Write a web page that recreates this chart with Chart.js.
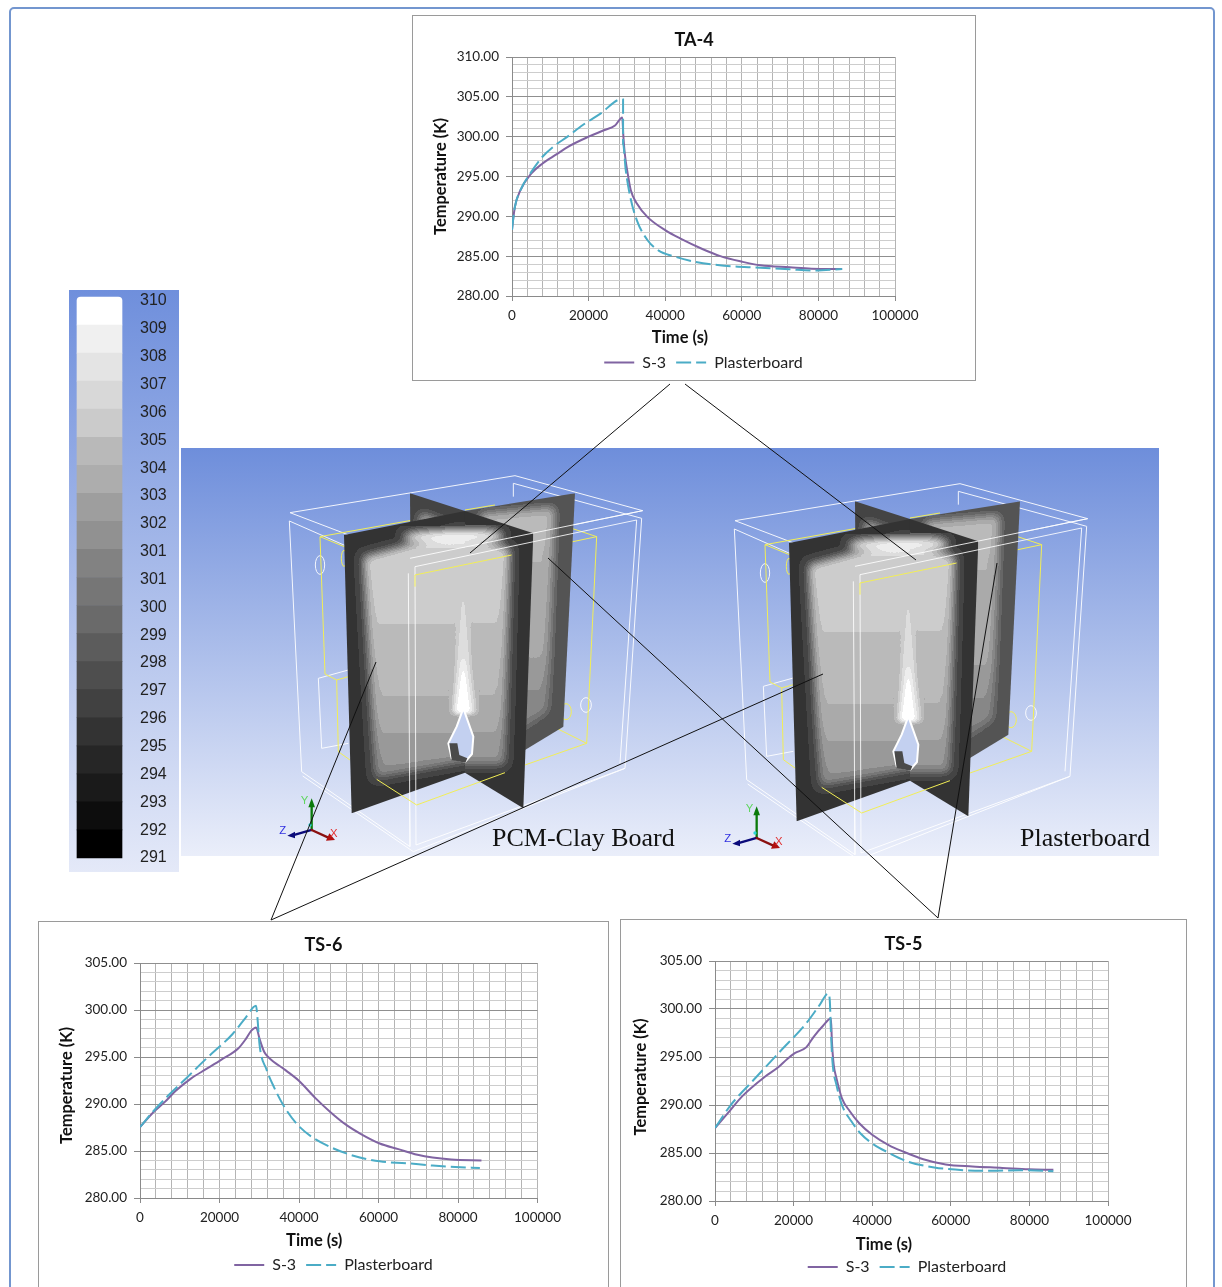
<!DOCTYPE html>
<html>
<head>
<meta charset="utf-8">
<title>Temperature charts</title>
<script src="https://cdn.jsdelivr.net/npm/chart.js@4"></script>
<style>
    html, body { margin: 0; padding: 0; background: #fff; }
    #page { position: relative; width: 1222px; height: 1287px; overflow: hidden; background: #fff; }
    #frame { position: absolute; left: 9px; top: 7px; width: 1206px; height: 1300px; border: 2px solid #7396cf; border-radius: 5px; box-sizing: border-box; }
    #legendPanel { position: absolute; left: 69px; top: 290px; width: 110px; height: 582px; background: linear-gradient(#6f8fdc, #e4e9f8); }
    #sceneBg { position: absolute; left: 181px; top: 448px; width: 978px; height: 408px; background: linear-gradient(#6e8edb, #eaeefa); }
    .box { position: absolute; background: #fff; border: 1px solid #9a9a9a; box-sizing: border-box; }
    canvas, svg { position: absolute; left: 0; top: 0; }
    .box canvas { left: -1px; top: -1px; }
    .sceneLabel { position: absolute; font-family: "Liberation Serif", serif; font-size: 26px; color: #111; white-space: nowrap; }
</style>
</head>
<body>
<div id="page">
    <div id="frame"></div>
    <div id="legendPanel"><canvas id="legendChart" width="110" height="582"></canvas></div>
    <div id="sceneBg"></div>

    <svg width="1222" height="1287" viewBox="0 0 1222 1287">
        <defs>
            <filter id="blur14" x="-30%" y="-30%" width="160%" height="160%"><feGaussianBlur stdDeviation="14"/></filter>
            <filter id="blur6" x="-30%" y="-30%" width="160%" height="160%"><feGaussianBlur stdDeviation="6"/></filter>
            <filter id="bands" x="0" y="0" width="100%" height="100%" color-interpolation-filters="sRGB">
                <feComponentTransfer>
                    <feFuncR type="discrete" tableValues="0 .07 .13 .2 .27 .33 .4 .47 .53 .6 .67 .73 .8 .87 .93 1"/>
                    <feFuncG type="discrete" tableValues="0 .07 .13 .2 .27 .33 .4 .47 .53 .6 .67 .73 .8 .87 .93 1"/>
                    <feFuncB type="discrete" tableValues="0 .07 .13 .2 .27 .33 .4 .47 .53 .6 .67 .73 .8 .87 .93 1"/>
                </feComponentTransfer>
            </filter>
            <linearGradient id="wallGrey" gradientUnits="userSpaceOnUse" x1="0" y1="280" x2="0" y2="990">
                <stop offset="0" stop-color="#d0d0d0"/>
                <stop offset=".35" stop-color="#bfbfbf"/>
                <stop offset=".7" stop-color="#acacac"/>
                <stop offset="1" stop-color="#888888"/>
            </linearGradient>
            <linearGradient id="backGrey" gradientUnits="userSpaceOnUse" x1="0" y1="220" x2="0" y2="850">
                <stop offset="0" stop-color="#b4b4b4"/>
                <stop offset=".6" stop-color="#a4a4a4"/>
                <stop offset="1" stop-color="#7a7a7a"/>
            </linearGradient>
            <clipPath id="wingBackLeft"><polygon points="690,130 855,183 855,400 692,400"/></clipPath>
            <clipPath id="wingBackRight"><polygon points="855,183 1185,130 1150,830 1035,900 855,968"/></clipPath>
            <clipPath id="wingFrontLeft"><polygon points="492,255 855,183 855,968 515,1090"/></clipPath>
            <clipPath id="wingFrontRight"><polygon points="855,183 1060,250 1030,1075 855,968"/></clipPath>

            <g id="scene" fill="none" stroke-linejoin="round">
                <!-- wireframe behind the walls -->
                <g stroke="#ffffff" stroke-width="3" opacity=".9">
                    <polygon points="330,188 1005,77 1388,182 690,325"/>
                    <polyline points="1000,140 1000,100 1385,205 1335,955 708,1185"/>
                    <polyline points="328,213 365,965 690,1190 685,370 328,213"/>
                    <polyline points="368,978 700,1205 1335,955"/>
                    <polyline points="1370,210 1320,940"/>
                    <polyline points="505,660 415,685 425,895 505,880"/>
                    <ellipse cx="420" cy="345" rx="14" ry="28"/>
                    <ellipse cx="1218" cy="765" rx="16" ry="22"/>
                </g>
                <g stroke="#f2ee55" stroke-width="3">
                    <polyline points="700,210 420,260 435,672 470,690 505,680"/>
                    <polyline points="470,690 475,905 510,930"/>
                    <polyline points="420,260 700,375"/>
                    <polyline points="1060,300 1250,260 1115,215"/>
                    <polyline points="1250,260 1220,880 1035,945"/>
                    <polyline points="855,180 945,165"/>
                    <polyline points="1090,815 1220,880"/>
                    <ellipse cx="1158" cy="785" rx="16" ry="24"/>
                    <ellipse cx="492" cy="325" rx="8" ry="24"/>
                </g>

                <!-- contour walls, blurred then cut into bands -->
                <g clip-path="url(#wingBackLeft)"><g filter="url(#bands)">
                    <rect x="680" y="120" width="190" height="300" fill="#484848"/>
                    <polygon points="720,190 855,240 855,400 720,400" fill="#bbbbbb" filter="url(#blur14)"/>
                </g></g>
                <g clip-path="url(#wingBackRight)"><g filter="url(#bands)">
                    <rect x="850" y="120" width="350" height="860" fill="#525252"/>
                    <polygon points="900,190 1125,170 1105,785 1000,860 900,860" fill="url(#backGrey)" filter="url(#blur14)"/>
                </g></g>
                <g clip-path="url(#wingFrontLeft)"><g filter="url(#bands)">
                    <rect x="480" y="170" width="390" height="930" fill="#3e3e3e"/>
                    <polygon points="550,320 830,245 880,245 880,930 585,985" fill="url(#wallGrey)" filter="url(#blur14)"/>
                    <ellipse cx="790" cy="262" rx="120" ry="20" fill="#f4f4f4" filter="url(#blur14)"/>
                    <polygon points="850,400 872,650 885,790 815,790 828,650" fill="#dcdcdc" filter="url(#blur6)"/>
                    <polygon points="850,620 870,790 828,790" fill="#ffffff" filter="url(#blur6)"/>
                </g></g>
                <g clip-path="url(#wingFrontRight)"><g filter="url(#bands)">
                    <rect x="845" y="170" width="225" height="915" fill="#3e3e3e"/>
                    <polygon points="830,245 990,295 975,945 830,945" fill="url(#wallGrey)" filter="url(#blur14)"/>
                    <ellipse cx="885" cy="258" rx="85" ry="20" fill="#f4f4f4" filter="url(#blur14)"/>
                    <polygon points="850,400 872,650 890,790 815,790 828,650" fill="#dcdcdc" filter="url(#blur6)"/>
                    <polygon points="850,620 872,790 828,790" fill="#ffffff" filter="url(#blur6)"/>
                </g></g>
                <!-- opening at the foot of the plume -->
                <path d="M850 775 L880 860 L876 912 L856 935 L815 925 L805 880 L830 830 Z" fill="#c3d0f0" stroke="#ffffff" stroke-width="6"/>
                <path d="M808 880 L832 880 L838 915 L862 925 L856 938 L815 930 Z" fill="#4a4a4a"/>

                <!-- wireframe in front of the walls -->
                <g stroke="#ffffff" stroke-width="3" opacity=".85">
                    <polyline points="690,325 1388,182"/>
                    <polyline points="705,350 1370,210"/>
                    <polyline points="705,350 708,1185"/>
                    <polyline points="685,370 690,1190"/>
                </g>
                <g stroke="#f2ee55" stroke-width="3">
                    <polyline points="590,988 710,1065 975,968"/>
                    <polyline points="705,375 995,315"/>
                    <polyline points="705,375 705,410"/>
                </g>

                <!-- axis triad -->
                <g stroke-width="7" stroke-linecap="round">
                    <line x1="395" y1="1140" x2="395" y2="1060" stroke="#0b7a0b"/>
                    <line x1="395" y1="1140" x2="335" y2="1157" stroke="#0a0a7a"/>
                    <line x1="395" y1="1140" x2="450" y2="1165" stroke="#8a1010"/>
                </g>
                <polygon points="385,1072 395,1045 405,1072" fill="#0b7a0b"/>
                <polygon points="345,1145 322,1157 345,1165" fill="#0a0a7a"/>
                <polygon points="438,1172 465,1170 448,1150" fill="#b01010"/>
                <circle cx="390" cy="1125" r="5" fill="#2bd6d6"/>
                <g font-family="Liberation Sans, sans-serif" font-size="34">
                    <text x="362" y="1062" fill="#5fd65f">Y</text>
                    <text x="450" y="1162" fill="#e23030">X</text>
                    <text x="298" y="1152" fill="#3030e0">Z</text>
                </g>
            </g>
        </defs>
        <g transform="translate(180,450) scale(.33333)"><use href="#scene"/></g>
        <g transform="translate(625,458) scale(.33333)"><use href="#scene"/></g>
    </svg>

    <div class="sceneLabel" style="left:492px; top:823px;">PCM-Clay Board</div>
    <div class="sceneLabel" style="left:1020px; top:823px;">Plasterboard</div>

    <div class="box" style="left:412px; top:15px; width:564px; height:366px;"><canvas id="chartTA4" width="564" height="366"></canvas></div>
    <div class="box" style="left:38px; top:921px; width:571px; height:380px;"><canvas id="chartTS6" width="571" height="366"></canvas></div>
    <div class="box" style="left:620px; top:919px; width:567px; height:380px;"><canvas id="chartTS5" width="567" height="368"></canvas></div>

    <!-- call-out lines -->
    <svg width="1222" height="1287" viewBox="0 0 1222 1287" stroke="#111" stroke-width="1">
        <line x1="670" y1="384" x2="470" y2="553"/>
        <line x1="685" y1="384" x2="916" y2="560"/>
        <line x1="271" y1="920" x2="376" y2="662"/>
        <line x1="271" y1="920" x2="823" y2="674"/>
        <line x1="938" y1="918" x2="548" y2="558"/>
        <line x1="938" y1="918" x2="997" y2="563"/>
    </svg>
</div>

<script>
// Values
const ta4TimeS3 = [0, 200, 760, 2180, 5000, 7900, 11700, 14500, 20000, 24000, 26900, 28800, 29060, 29440, 30200, 31000, 32600, 35400, 40200, 44000, 49700, 54400, 60100, 64900, 72500, 78200, 86200];
const ta4S3 = [288.3, 289.2, 291.2, 293.26, 295.35, 296.6, 297.8, 298.7, 300, 300.8, 301.4, 302.4, 300.2, 297.9, 295.4, 293.3, 291.6, 289.9, 288.2, 287.2, 285.9, 285, 284.3, 283.85, 283.6, 283.43, 283.4];
const ta4TimePb = [0, 200, 760, 2180, 5000, 7900, 11200, 14500, 18300, 23100, 28600, 29000, 29000, 29700, 30900, 32600, 35400, 38300, 42100, 47800, 55400, 64900, 72500, 79100, 86200];
const ta4Pb = [288.3, 289.2, 291.2, 293.26, 295.55, 297.45, 298.9, 300, 301.4, 302.9, 304.7, 304.65, 299.1, 295.8, 292.4, 289.5, 287, 285.7, 285, 284.3, 283.8, 283.55, 283.35, 283.2, 283.4];

const ts6TimeS3 = [0, 3300, 6200, 9000, 12800, 16600, 20400, 24700, 26600, 28000, 29200, 30100, 31300, 32500, 36600, 39900, 44200, 48000, 51800, 55600, 60300, 65000, 69800, 73600, 78300, 85900];
const ts6S3 = [287.54, 289.1, 290.2, 291.4, 292.7, 293.7, 294.7, 295.9, 296.9, 297.8, 298.15, 296.9, 295.5, 294.9, 293.6, 292.5, 290.6, 289.1, 287.8, 286.8, 285.8, 285.2, 284.6, 284.3, 284.1, 284];
const ts6TimePb = [0, 3300, 7100, 11900, 16600, 23300, 26600, 29200, 29500, 30100, 31800, 33700, 36100, 39400, 43200, 48000, 53700, 60300, 67000, 73600, 79300, 85500];
const ts6Pb = [287.54, 289.2, 290.9, 292.85, 294.8, 297.45, 299.2, 300.45, 299.4, 296.2, 293.7, 291.8, 289.85, 287.9, 286.5, 285.4, 284.5, 283.9, 283.7, 283.45, 283.3, 283.2];

const ts5TimeS3 = [0, 3100, 6900, 12700, 16000, 18400, 20300, 23200, 25100, 27500, 29500, 29750, 30200, 30900, 32300, 34300, 36700, 40000, 44300, 48200, 53000, 58700, 65500, 73100, 79800, 86100];
const ts5S3 = [287.6, 289.07, 290.9, 292.95, 293.9, 294.8, 295.4, 296, 297.1, 298.25, 299, 296.6, 294.2, 292.8, 290.7, 289.35, 288.1, 286.9, 285.8, 285.1, 284.35, 283.8, 283.6, 283.45, 283.3, 283.25];
const ts5TimePb = [0, 4000, 9800, 16500, 23200, 26600, 28800, 29200, 29500, 29900, 30900, 32300, 34700, 37100, 40000, 44300, 49100, 55800, 63500, 70200, 77900, 86100];
const ts5Pb = [287.6, 289.99, 292.6, 295.55, 298.5, 300.4, 301.6, 300.95, 297.6, 294.45, 292.1, 290, 288.3, 287, 286, 285, 284.1, 283.5, 283.2, 283.15, 283.2, 283.1];

const seriesNames = ["S-3", "Plasterboard"];
const legendTicks = ["310", "309", "308", "307", "306", "305", "304", "303", "302", "301", "301", "300", "299", "298", "297", "296", "295", "294", "293", "292", "291"];
const bandValues = ["#000000", "#0d0d0d", "#1a1a1a", "#262626", "#333333", "#414141", "#4e4e4e", "#5c5c5c", "#6a6a6a", "#767676", "#828282", "#919191", "#9e9e9e", "#adadad", "#b9b9b9", "#cbcbcb", "#d8d8d8", "#e4e4e4", "#f0f0f0", "#ffffff"];

const FONT = "Lato, 'Noto Sans', sans-serif";
const toPoints = (xs, ys) => xs.map((x, i) => ({ x: x, y: ys[i] }));

// moves the legend sideways, Chart.js has no option for that
const legendShift = {
    id: "legendShift",
    afterLayout(chart, args, opts) {
        chart.legend.left += opts.dx;
        chart.legend.right += opts.dx;
    }
};

// axis titles sit off centre in the reference, so shift the scale while its title is drawn
const nudgeTitle = (scale, from, to, d) => {
    const draw = Object.getPrototypeOf(scale).drawTitle;
    scale.drawTitle = () => {
        scale[from] += d;
        scale[to] += d;
        draw.call(scale);
        scale[from] -= d;
        scale[to] -= d;
    };
};

// legend keys with usePointStyle lose the dash, put it back
const dashedLabels = chart => Chart.defaults.plugins.legend.labels.generateLabels(chart).map(item => {
    item.lineDash = chart.data.datasets[item.datasetIndex].borderDash || [];
    return item;
});

const makeChart = (id, title, s3, pb, c) => new Chart(document.getElementById(id), {
    type: "line",
    data: {
        datasets: [
            { label: seriesNames[0], data: s3, borderColor: "#8064a2", backgroundColor: "#8064a2", borderWidth: 2, pointRadius: 0, cubicInterpolationMode: "monotone", order: 2 },
            { label: seriesNames[1], data: pb, borderColor: "#4bacc6", backgroundColor: "#4bacc6", borderWidth: 2, borderDash: [15, 5], pointRadius: 0, cubicInterpolationMode: "monotone", order: 1 }
        ]
    },
    plugins: [legendShift],
    options: {
        responsive: false,
        animation: false,
        layout: { padding: { bottom: c.padBottom } },
        plugins: {
            tooltip: { enabled: false },
            legendShift: { dx: c.legendDx },
            title: {
                display: true,
                text: title,
                color: "#111",
                font: { family: FONT, size: 18, weight: "bold" },
                padding: { top: c.titleTop, bottom: 20.4 - c.titleTop }
            },
            legend: {
                position: "bottom",
                labels: {
                    usePointStyle: true,
                    pointStyle: "line",
                    pointStyleWidth: 30,
                    padding: 10,
                    color: "#222",
                    font: { family: FONT, size: 16 },
                    generateLabels: dashedLabels,
                    sort: (a, b) => a.datasetIndex - b.datasetIndex
                }
            }
        },
        scales: {
            x: {
                type: "linear",
                min: 0,
                max: 100000,
                afterFit: s => { s.height = c.xHeight; nudgeTitle(s, "left", "right", c.xTitleDx); },
                title: { display: true, text: "Time (s)", color: "#111", font: { family: FONT, size: 16.5, weight: "bold", lineHeight: 0.91 }, padding: c.xTitlePad },
                grid: {
                    color: "#b4b4b4",
                    tickLength: 5,
                    tickColor: ctx => ctx.tick.value % 20000 === 0 ? "#8a8a8a" : "transparent"
                },
                border: { color: "#8a8a8a" },
                ticks: {
                    stepSize: 4000,
                    autoSkip: false,
                    maxRotation: 0,
                    padding: 6.5,
                    color: "#222",
                    font: { family: FONT, size: 13.5 },
                    callback: v => v % 20000 === 0 ? String(v) : ""
                }
            },
            y: {
                min: 280,
                max: c.yMax,
                afterFit: s => { s.width = c.yWidth; nudgeTitle(s, "top", "bottom", c.yTitleDy); },
                title: { display: true, text: "Temperature (K)", color: "#111", font: { family: FONT, size: 16.4, weight: "bold" }, padding: c.yTitlePad },
                grid: {
                    color: ctx => ctx.tick.value % 5 === 0 ? "#8f8f8f" : "#cdcdcd",
                    tickLength: 6,
                    tickColor: ctx => ctx.tick.value % 5 === 0 ? "#8a8a8a" : "transparent"
                },
                border: { color: "#8a8a8a" },
                ticks: {
                    stepSize: 1,
                    autoSkip: false,
                    padding: 7,
                    color: "#222",
                    font: { family: FONT, size: 13.5 },
                    callback: v => v % 5 === 0 ? v.toFixed(2) : ""
                }
            },
            // empty axis, keeps the white margin to the right of the plot
            yRight: {
                position: "right",
                afterFit: s => { s.width = c.right; },
                ticks: { display: false },
                grid: { display: false, drawTicks: false },
                border: { display: false }
            }
        }
    }
});

makeChart("chartTA4", "TA-4", toPoints(ta4TimeS3, ta4S3), toPoints(ta4TimePb, ta4Pb), {
    yMax: 310, yWidth: 100, right: 81, xHeight: 48.5, padBottom: 0.5, titleTop: 14, legendDx: 9.5, xTitlePad: -1, xTitleDx: -23.5, yTitlePad: 19, yTitleDy: 0
});
makeChart("chartTS6", "TS-6", toPoints(ts6TimeS3, ts6S3), toPoints(ts6TimePb, ts6Pb), {
    yMax: 305, yWidth: 102, right: 71.5, xHeight: 49, padBottom: 4, titleTop: 13.4, legendDx: 10, xTitlePad: -1, xTitleDx: -24.5, yTitlePad: 19, yTitleDy: 5
});
makeChart("chartTS5", "TS-5", toPoints(ts5TimeS3, ts5S3), toPoints(ts5TimePb, ts5Pb), {
    yMax: 305, yWidth: 95, right: 79, xHeight: 48, padBottom: 2, titleTop: 14, legendDx: 3.5, xTitlePad: -3.5, xTitleDx: -27.5, yTitlePad: 11, yTitleDy: -4
});

// Temperature scale down the left side, one stacked band per colour
new Chart(document.getElementById("legendChart"), {
    type: "bar",
    data: {
        labels: ["T"],
        datasets: bandValues.map((colour, i) => ({
            data: [1],
            backgroundColor: colour,
            borderRadius: i === bandValues.length - 1 ? { topLeft: 4, topRight: 4 } : 0,
            borderSkipped: false,
            barPercentage: 1,
            categoryPercentage: 1,
            clip: false
        }))
    },
    options: {
        responsive: false,
        animation: false,
        layout: { padding: { left: 8, top: 11, bottom: 14 } },
        plugins: { legend: { display: false }, tooltip: { enabled: false } },
        scales: {
            x: { display: false, stacked: true },
            // the bands overshoot the first tick label by a few pixels
            y: { display: false, stacked: true, min: 0, max: bandValues.length - 0.143 },
            y2: {
                type: "category",
                labels: legendTicks,
                position: "right",
                offset: false,
                afterFit: s => { s.width = 57; s.paddingTop = 0; s.paddingBottom = 0; },
                grid: { display: false, drawTicks: false },
                border: { display: false },
                ticks: { autoSkip: false, padding: 18, color: "#222", font: { family: "Liberation Sans, sans-serif", size: 16 } }
            }
        }
    }
});
</script>
</body>
</html>
